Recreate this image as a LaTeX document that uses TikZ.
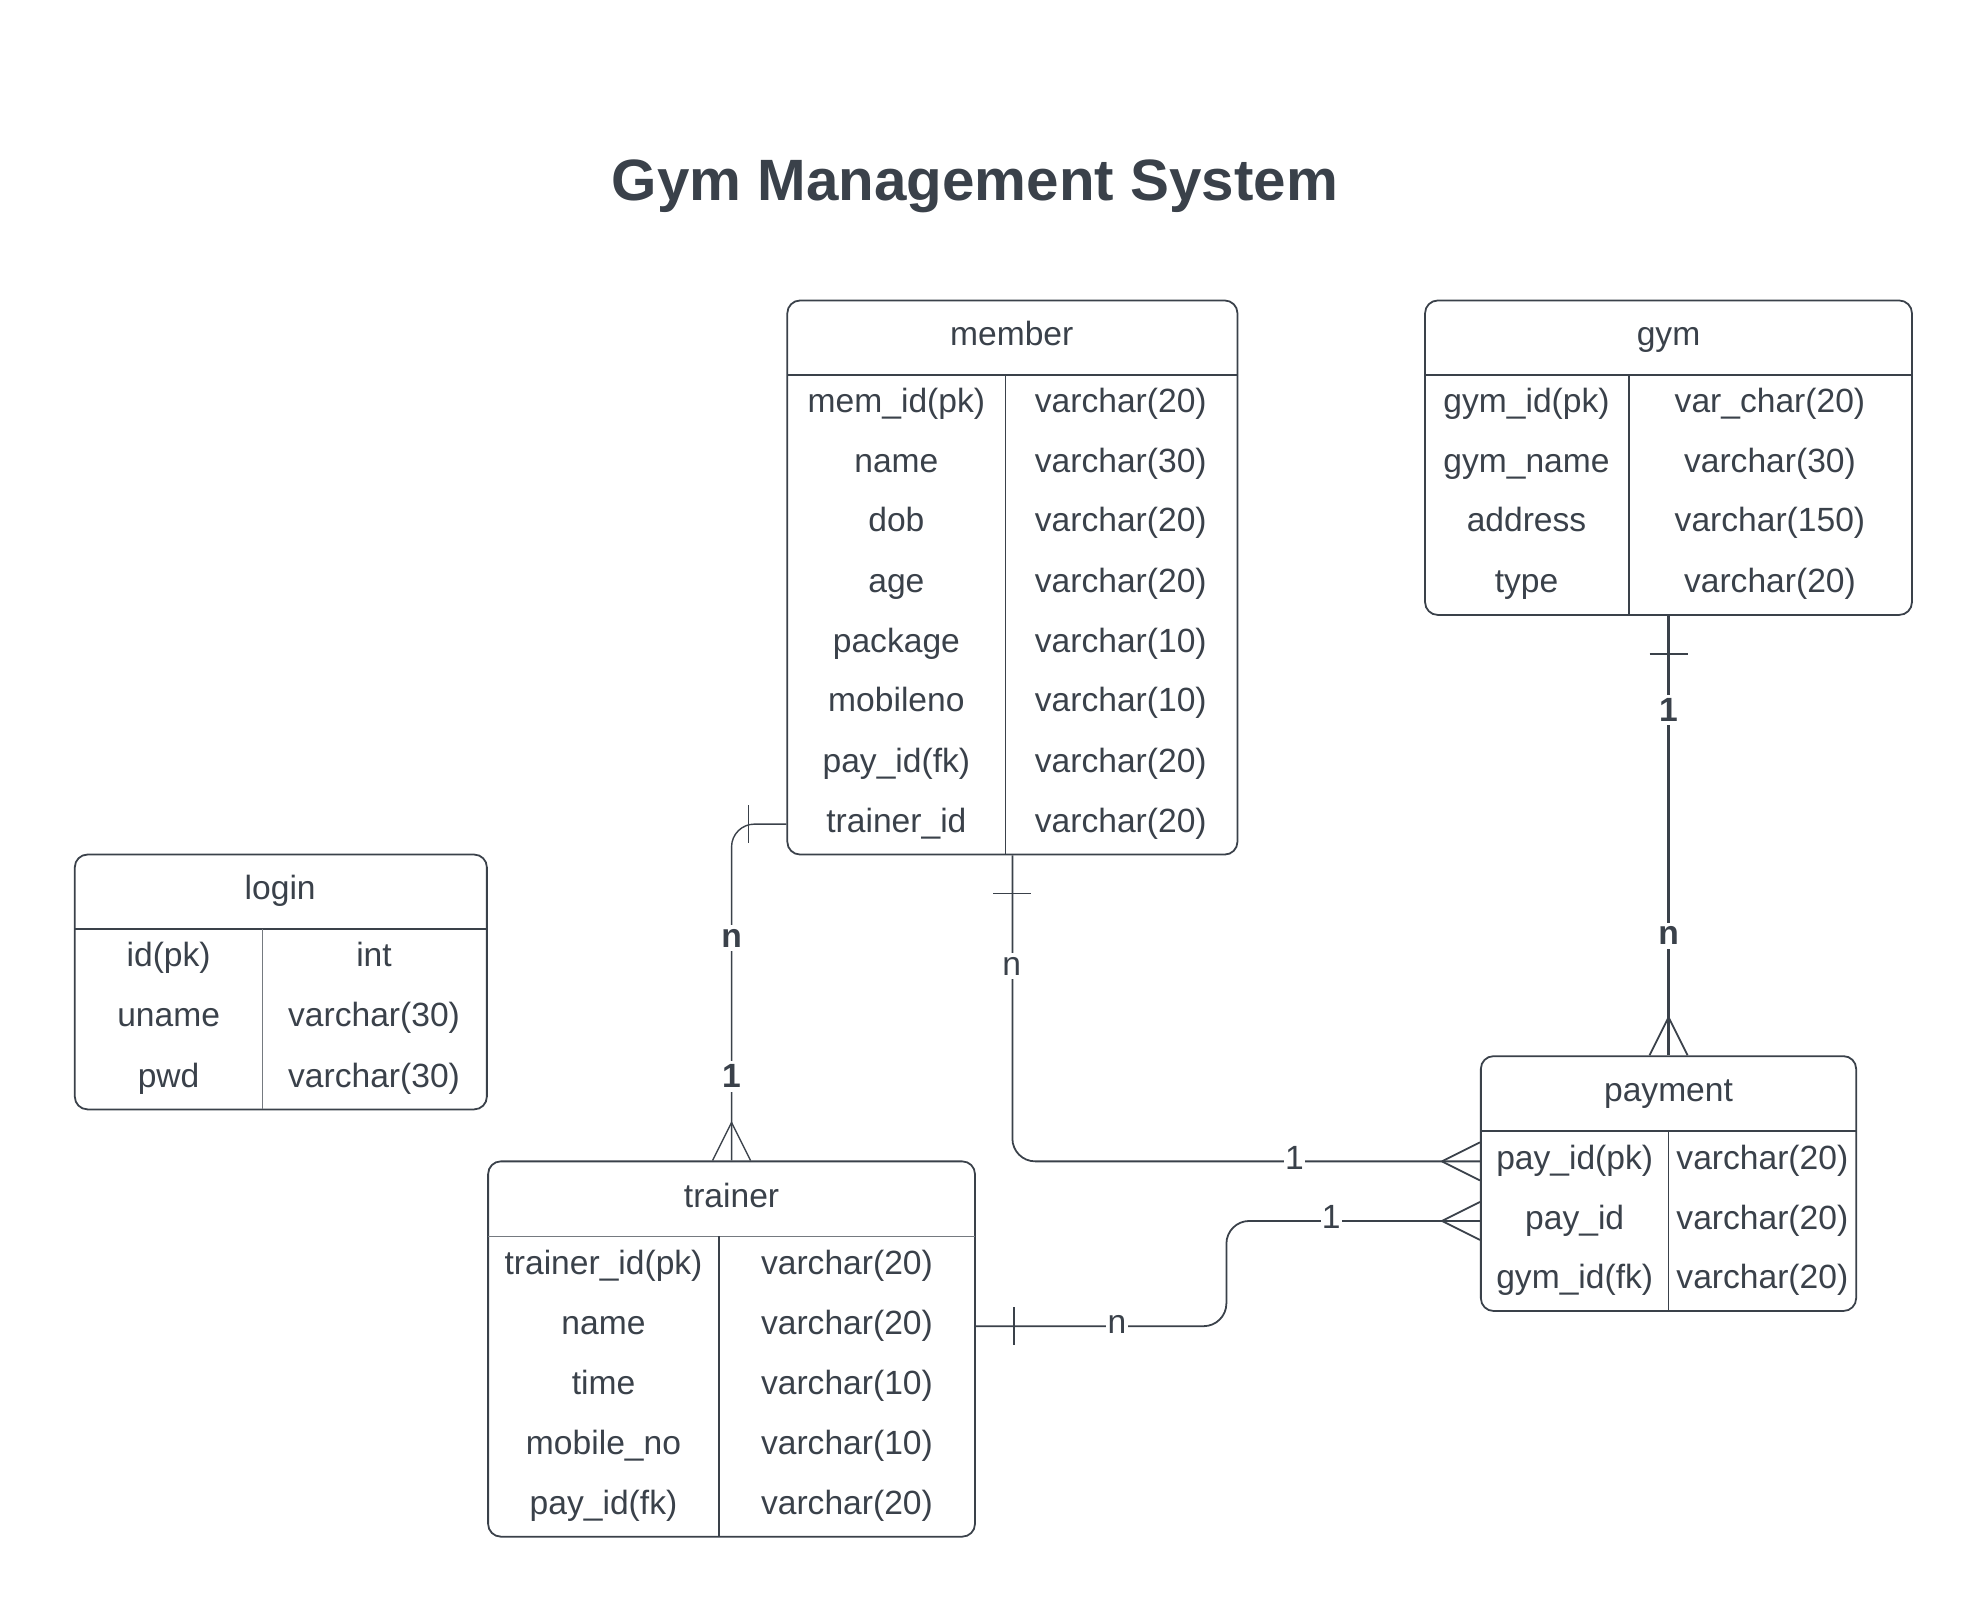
\documentclass[tikz,border=0pt]{standalone}
\usepackage{fontspec}
\setmainfont{Liberation Sans}
\usepackage{xcolor}
\usetikzlibrary{arrows.meta}
\definecolor{ink}{HTML}{3A414A}
\tikzset{
  tbl/.style={draw=ink,line width=1.4pt,rounded corners=10pt,inner sep=0pt},
  cell/.style={text=ink,font=\fontsize{26.5}{30}\selectfont,inner sep=1pt,text height=19pt,text depth=6pt,yshift=-3pt},
  rel/.style={draw=ink,line width=1.4pt},
  lbl/.style={text=ink,fill=white,font=\fontsize{26.5}{30}\selectfont,inner sep=3pt},
}

\begin{document}
\begin{tikzpicture}[x=1pt,y=-1pt]
  \useasboundingbox (0,0) rectangle (1568,1272);
  \node (title) at (769,147) [text=ink,font=\fontsize{46}{52}\selectfont\bfseries] {Gym Management System};

  % member
  \node (member) at (798.5,455.5) [tbl,minimum width=355pt,minimum height=437pt] {};
  \node (mH) at (798,263) [cell] {member};
  \draw[ink,line width=1.4pt] (621,296) -- (976,296);
  \draw[ink,line width=1.4pt] (793,296) -- (793,674);
  \node (mId) at (707,316) [cell] {mem\_id(pk)};
  \node (mName) at (707,363) [cell] {name};
  \node (mDob) at (707,410) [cell] {dob};
  \node (mAge) at (707,458) [cell] {age};
  \node (mPkg) at (707,505) [cell] {package};
  \node (mMob) at (707,552) [cell] {mobileno};
  \node (mPay) at (707,600) [cell] {pay\_id(fk)};
  \node (mTid) at (707,647) [cell] {trainer\_id};
  \node (mIdT) at (884,316) [cell] {varchar(20)};
  \node (mNameT) at (884,363) [cell] {varchar(30)};
  \node (mDobT) at (884,410) [cell] {varchar(20)};
  \node (mAgeT) at (884,458) [cell] {varchar(20)};
  \node (mPkgT) at (884,505) [cell] {varchar(10)};
  \node (mMobT) at (884,552) [cell] {varchar(10)};
  \node (mPayT) at (884,600) [cell] {varchar(20)};
  \node (mTidT) at (884,647) [cell] {varchar(20)};

  % gym
  \node (gym) at (1316,361) [tbl,minimum width=384pt,minimum height=248pt] {};
  \node (gH) at (1316,263) [cell] {gym};
  \draw[ink,line width=1.4pt] (1124,296) -- (1508,296);
  \draw[ink,line width=1.4pt] (1285,296) -- (1285,485);
  \node (gId) at (1204,316) [cell] {gym\_id(pk)};
  \node (gName) at (1204,363) [cell] {gym\_name};
  \node (gAddr) at (1204,410) [cell] {address};
  \node (gType) at (1204,458) [cell] {type};
  \node (gIdT) at (1396,316) [cell] {var\_char(20)};
  \node (gNameT) at (1396,363) [cell] {varchar(30)};
  \node (gAddrT) at (1396,410) [cell] {varchar(150)};
  \node (gTypeT) at (1396,458) [cell] {varchar(20)};

  % login
  \node (login) at (221.5,774.5) [tbl,minimum width=325pt,minimum height=201pt] {};
  \node (lH) at (221,700) [cell] {login};
  \draw[ink,line width=1.4pt] (59,733) -- (384,733);
  \draw[ink!70,line width=0.8pt] (207,733) -- (207,875);
  \node (lId) at (133,753) [cell] {id(pk)};
  \node (lUser) at (133,800) [cell] {uname};
  \node (lPwd) at (133,848) [cell] {pwd};
  \node (lIdT) at (295,753) [cell] {int};
  \node (lUserT) at (295,800) [cell] {varchar(30)};
  \node (lPwdT) at (295,848) [cell] {varchar(30)};

  % trainer
  \node (trainer) at (577,1064) [tbl,minimum width=384pt,minimum height=296pt] {};
  \node (tH) at (577,943) [cell] {trainer};
  \draw[ink!70,line width=0.8pt] (385,975) -- (769,975);
  \draw[ink,line width=1.4pt] (567,975) -- (567,1212);
  \node (tId) at (476,996) [cell] {trainer\_id(pk)};
  \node (tName) at (476,1043) [cell] {name};
  \node (tTime) at (476,1090) [cell] {time};
  \node (tMob) at (476,1138) [cell] {mobile\_no};
  \node (tPay) at (476,1185) [cell] {pay\_id(fk)};
  \node (tIdT) at (668,996) [cell] {varchar(20)};
  \node (tNameT) at (668,1043) [cell] {varchar(20)};
  \node (tTimeT) at (668,1090) [cell] {varchar(10)};
  \node (tMobT) at (668,1138) [cell] {varchar(10)};
  \node (tPayT) at (668,1185) [cell] {varchar(20)};

  % payment
  \node (payment) at (1316,933.5) [tbl,minimum width=296pt,minimum height=201pt] {};
  \node (pH) at (1316,859) [cell] {payment};
  \draw[ink,line width=1.4pt] (1168,892) -- (1464,892);
  \draw[ink,line width=1.4pt] (1316,892) -- (1316,1034);
  \node (pPk) at (1242,913) [cell] {pay\_id(pk)};
  \node (pId) at (1242,960) [cell] {pay\_id};
  \node (pGym) at (1242,1007) [cell] {gym\_id(fk)};
  \node (pPkT) at (1390,913) [cell] {varchar(20)};
  \node (pIdT) at (1390,960) [cell] {varchar(20)};
  \node (pGymT) at (1390,1007) [cell] {varchar(20)};

  % member -- trainer
  \draw[rel,line width=1.1pt,rounded corners=18pt] (member.west |- mTid) -| (trainer.north);
  \draw[rel,line width=1.1pt] ([xshift=-30pt]member.west |- mTid) ++(0,-15) -- ++(0,30);
  \draw[rel,line width=1.1pt] ([yshift=30pt]trainer.north) -- ([xshift=-15pt]trainer.north);
  \draw[rel,line width=1.1pt] ([yshift=30pt]trainer.north) -- (trainer.north);
  \draw[rel,line width=1.1pt] ([yshift=30pt]trainer.north) -- ([xshift=15pt]trainer.north);
  \node (l1) at (577,740) [lbl,font=\fontsize{26.5}{30}\selectfont\bfseries] {n};
  \node (l2) at (577,849) [lbl,font=\fontsize{26.5}{30}\selectfont\bfseries] {1};

  % member -- payment
  \draw[rel,rounded corners=18pt] (member.south) |- (payment.west |- pPk);
  \draw[rel] ([yshift=-30pt]member.south) ++(-15,0) -- ++(30,0);
  \draw[rel] ([xshift=-30pt]payment.west |- pPk) -- ([yshift=15pt]payment.west |- pPk);
  \draw[rel] ([xshift=-30pt]payment.west |- pPk) -- ([yshift=-15pt]payment.west |- pPk);
  \node (l3) at (798,762) [lbl] {n};
  \node (l4) at (1021,913) [lbl,inner sep=1pt] {1};

  % trainer -- payment
  \draw[rel,rounded corners=18pt] (trainer.east |- tName) -| ([xshift=-200pt]payment.west |- pId) -- (payment.west |- pId);
  \draw[rel] ([xshift=30pt]trainer.east |- tName) ++(0,-15) -- ++(0,30);
  \draw[rel] ([xshift=-30pt]payment.west |- pId) -- ([yshift=15pt]payment.west |- pId);
  \draw[rel] ([xshift=-30pt]payment.west |- pId) -- ([yshift=-15pt]payment.west |- pId);
  \node (l5) at (881,1045) [lbl,inner sep=1pt] {n};
  \node (l6) at (1050,960) [lbl,inner sep=1pt] {1};

  % gym -- payment
  \draw[rel,line width=2.2pt] (gym.south) -- (payment.north);
  \draw[rel,line width=2pt] ([yshift=-30pt]gym.south) ++(-15,0) -- ++(30,0);
  \draw[rel] ([yshift=30pt]payment.north) -- ([xshift=-15pt]payment.north);
  \draw[rel] ([yshift=30pt]payment.north) -- ([xshift=15pt]payment.north);
  \node (l7) at (1316,560) [lbl,font=\fontsize{26.5}{30}\selectfont\bfseries] {1};
  \node (l8) at (1316,738) [lbl,font=\fontsize{26.5}{30}\selectfont\bfseries] {n};
\end{tikzpicture}
\end{document}
